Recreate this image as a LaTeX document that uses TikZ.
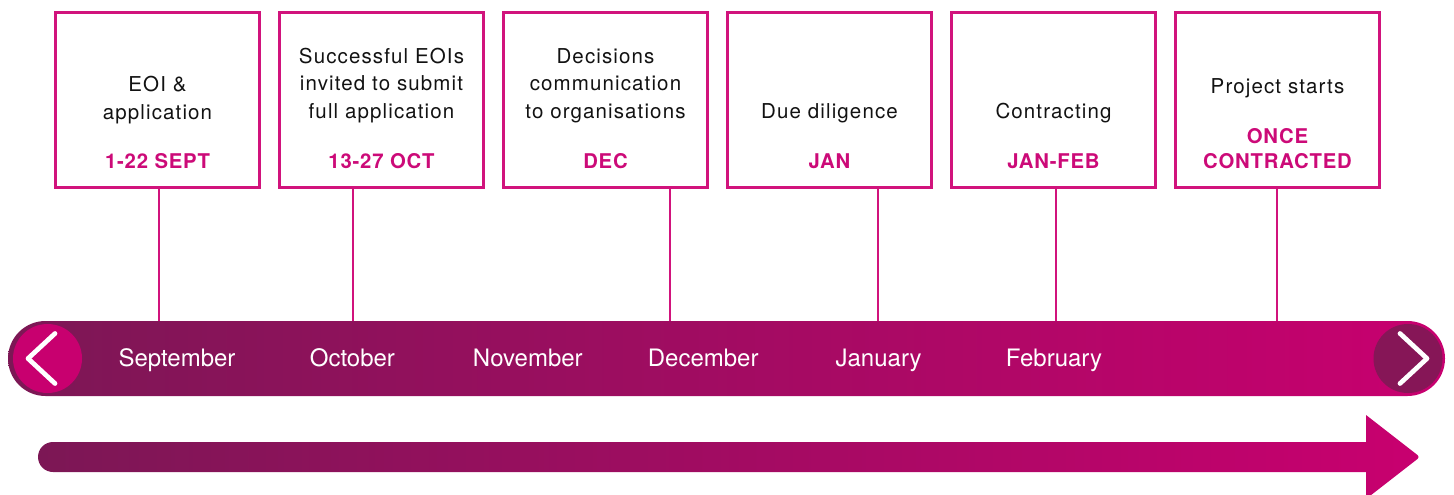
\documentclass[tikz,border=0pt]{standalone}
\usepackage{fontspec}
\setmainfont{TeX Gyre Heros}
\newfontfamily\stagefont[LetterSpace=5.5]{TeX Gyre Heros}
\newfontfamily\datefont[LetterSpace=4]{TeX Gyre Heros}
\definecolor{rim}{HTML}{D1137C}
\definecolor{datepink}{HTML}{CC0A78}
\definecolor{plum}{HTML}{7C1755}
\definecolor{rose}{HTML}{C8006F}
\definecolor{darkplum}{HTML}{861657}
\tikzset{
  stagebox/.style={draw=rim, line width=2.7pt, minimum width=204.3pt, minimum height=175.3pt},
  stagetext/.style={anchor=base, align=center, text=black!93, font=\stagefont\fontsize{20.5}{27.5}\selectfont},
  datetext/.style={anchor=base, align=center, text=datepink, font=\datefont\bfseries\fontsize{20.3}{25}\selectfont},
  month/.style={anchor=base, text=white, font=\fontsize{24}{28}\selectfont},
  conn/.style={draw=rim, line width=2pt},
  chev/.style={white, line width=4.7pt, line cap=round, line join=round}
}
\begin{document}
\begin{tikzpicture}[x=1pt,y=-1pt]
  \useasboundingbox (0,0) rectangle (1454,495);
  % timeline bar
  \node[minimum width=1437pt, minimum height=75pt, rounded corners=37.5pt,
    left color=plum, right color=rose] (bar) at (726.5,358.5) {};
  \node[circle, fill=rose, minimum size=69pt] (prev) at (47.5,358.5) {};
  \node[circle, fill=darkplum, minimum size=69pt] (next) at (1408,358.5) {};
  \draw[chev] ([shift={(7.5,-25)}]prev.center) -- ([shift={(-19.5,0)}]prev.center) -- ([shift={(7.5,25)}]prev.center);
  \draw[chev] ([shift={(-8,-25)}]next.center) -- ([shift={(19,0)}]next.center) -- ([shift={(-8,25)}]next.center);
  \foreach \i/\m in {1/September,2/October,3/November,4/December,5/January,6/February}{
    \node[month] (m\i) at ({177+175.4*(\i-1)},366) {\m};
  }
  % arrow
  \shade[left color=plum, right color=rose] (700,442) [rounded corners=15pt] -- (38,442) -- (38,472) -- (700,472)
    [sharp corners] -- (1366,472) -- (1366,499) [rounded corners=3pt] -- (1420,457) [sharp corners] -- (1366,415) -- (1366,442) -- cycle;
  % stages
  \foreach \i/\t/\ty/\d in {
    1/{EOI \&\\application}/119/{1-22 SEPT},
    2/{Successful EOIs\\invited to submit\\full application}/118/{13-27 OCT},
    3/{Decisions\\communication\\to organisations}/118/{DEC},
    4/{Due diligence}/118/{JAN},
    5/{Contracting}/118/{JAN-FEB},
    6/{Project starts}/93/{ONCE\\CONTRACTED}}{
    \node[stagebox] (box\i) at ({157.5+224*(\i-1)},100) {};
    \node[stagetext] (txt\i) at (box\i.center |- 0,\ty) {\t};
    \node[datetext] (date\i) at (box\i.center |- 0,168) {\d};
  }
  \foreach \i/\c in {1/159,2/353,3/670,4/878,5/1056,6/1277}{
    \draw[conn] (box\i.south -| \c,0) -- (bar.north -| \c,0);
  }
\end{tikzpicture}
\end{document}
